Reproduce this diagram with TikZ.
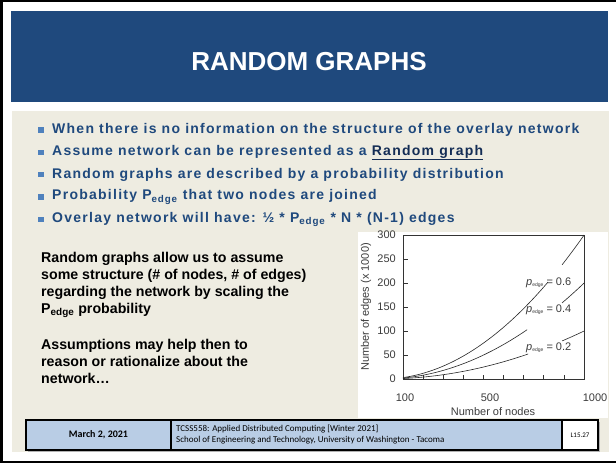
\documentclass[tikz,border=0pt]{standalone}
\usepackage{fontspec}
\setmainfont{Liberation Sans}
\newfontfamily\bulletfont[LetterSpace=9]{Liberation Sans}
\newfontfamily\footfont{Carlito}
\usetikzlibrary{calc}
\definecolor{titleblue}{RGB}{31,73,125}
\definecolor{bodybg}{RGB}{238,236,225}
\definecolor{bulletsq}{RGB}{79,129,189}
\definecolor{textblue}{RGB}{31,73,125}
\definecolor{linkblue}{RGB}{20,45,85}
\definecolor{footblue}{RGB}{185,205,229}
\definecolor{chartgray}{RGB}{60,60,60}
\tikzset{
  bulletline/.style={anchor=west, inner sep=0pt, text=textblue,
    font=\bulletfont\bfseries\fontsize{14}{16}\selectfont},
  bulletmark/.style={fill=bulletsq, minimum size=5.5pt, inner sep=0pt},
  bodytext/.style={anchor=north west, inner sep=0pt, align=left,
    font=\bfseries\fontsize{14.2}{16.8}\selectfont},
  footcell/.style={draw=black, line width=1.2pt},
  ticklabel/.style={inner sep=0pt, text=chartgray, font=\fontsize{11}{12}\selectfont},
  curvelabel/.style={inner sep=0pt, text=chartgray, font=\fontsize{11}{12}\selectfont},
  curve/.style={line width=0.6pt, black!85}
}
\newcommand{\pedge}{\textit{p}\raisebox{-1pt}{\fontsize{5}{5}\selectfont edge}}
\begin{document}
\begin{tikzpicture}[x=1pt, y=-1pt]
\useasboundingbox (0,0) rectangle (616,463);
\fill[white] (0,0) rectangle (616,463);
% frame
\fill[black] (0,0) rectangle (616,2);
\fill[black] (0,0) rectangle (2.5,463);
\fill[black] (0,460.5) rectangle (616,463);

% title bar
\fill[titleblue] (11,11) rectangle (608,102);
\node[text=white, font=\bfseries\fontsize{26}{28}\selectfont] (title) at (309,62) {RANDOM GRAPHS};

% body panel
\fill[bodybg] (12,111) rectangle (609,452);

% bullets
\foreach \i/\yy in {1/130,2/152.5,3/174.5,4/197,5/219.5}{
  \node[bulletmark] (bm\i) at (41,\yy) {};
}
\node[bulletline] (b1) at (52,130) {When there is no information on the structure of the overlay network};
\node[bulletline] (b2) at (52,152.5) {Assume network can be represented as a \textcolor{linkblue}{\underline{Random graph}}};
\node[bulletline] (b3) at (52,174.5) {Random graphs are described by a probability distribution};
\node[bulletline] (b4) at (52,197) {Probability P\textsubscript{edge} that two nodes are joined};
\node[bulletline] (b5) at (52,219.5) {Overlay network will have: ½ * P\textsubscript{edge} * N * (N-1) edges};

% left paragraph
\node[bodytext] (para1) at (41,252.5) {Random graphs allow us to assume\\some structure (\# of nodes, \# of edges)\\regarding the network by scaling the\\P\textsubscript{edge} probability};
\node[bodytext] (para2) at (41,339) {Assumptions may help then to\\reason or rationalize about the\\network\dots};

% chart
\fill[white] (358,232) rectangle (608,418);
\draw[line width=0.7pt, black!80] (403,235) rectangle (584,379);
\foreach \v/\yy in {50/355,100/331,150/307,200/283,250/259}{
  \draw[line width=0.6pt, black!80] (403,\yy) -- (408,\yy);
}
\foreach \v/\yy in {0/379,50/355,100/331,150/307,200/283,250/259,300/235}{
  \node[ticklabel, anchor=east] at (396,\yy) {\v};
}
\foreach \k in {1,...,8}{
  \draw[line width=0.6pt, black!80] ({403+\k*20.11},379) -- ({403+\k*20.11},375);
}
\node[ticklabel] (x100) at (405,398) {100};
\node[ticklabel] (x500) at (490,398) {500};
\node[ticklabel] (x1000) at (595,398) {1000};
\node[ticklabel] (xlab) at (493,412) {Number of nodes};
\node[ticklabel, rotate=90] (ylab) at (366,307) {Number of edges (x 1000)};

% curves: edges = p N (N-1) / 2 (in thousands)
\def\cx#1{403+(#1-100)*0.201111}
\foreach \p/\ga/\gb in {0.6/821/891, 0.4/717/891, 0.2/722/891}{
  \draw[curve] plot[domain=100:\ga, samples=60, smooth]
    ({\cx{\x}}, {379-0.48*\p*(\x/100)*((\x-1)/100)*5});
  \draw[curve] plot[domain=\gb:1000, samples=20, smooth]
    ({\cx{\x}}, {379-0.48*\p*(\x/100)*((\x-1)/100)*5});
}
\node[curvelabel, anchor=west] (l6) at (526,283) {\pedge\ = 0.6};
\node[curvelabel, anchor=west] (l4) at (526,310) {\pedge\ = 0.4};
\node[curvelabel, anchor=west] (l2) at (526,348) {\pedge\ = 0.2};

% footer
\fill[black!30] (28,422) rectangle (600,452);
\fill[footblue] (26,420) rectangle (562,450);
\fill[white] (562,420) rectangle (598,450);
\draw[footcell] (26,420) rectangle (598,450);
\draw[footcell] (171,420) -- (171,450);
\draw[footcell] (562,420) -- (562,450);
\node[font=\footfont\bfseries\fontsize{10}{12}\selectfont, inner sep=0pt] (date) at (98.5,435) {March 2, 2021};
\node[font=\footfont\fontsize{9}{11}\selectfont, anchor=west, align=left, inner sep=0pt] (course) at (176,435) {TCSS558: Applied Distributed Computing [Winter 2021]\\School of Engineering and Technology, University of Washington - Tacoma};
\node[font=\footfont\fontsize{7}{8}\selectfont, inner sep=0pt] (slide) at (580,435) {L15.27};
\end{tikzpicture}
\end{document}
